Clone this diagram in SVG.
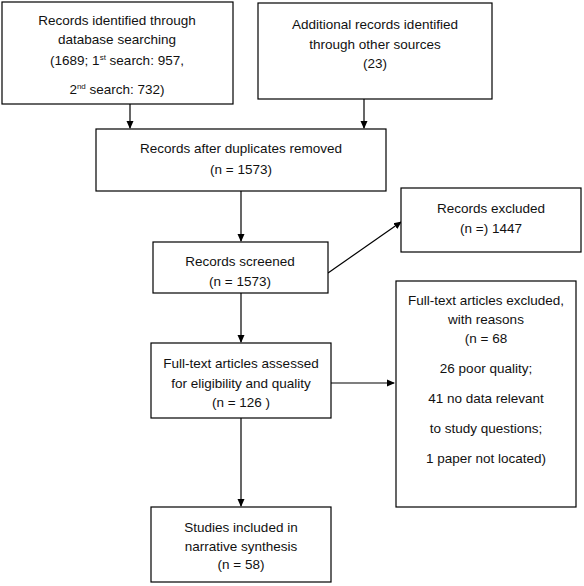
<svg xmlns="http://www.w3.org/2000/svg" width="584" height="586" viewBox="0 0 584 586">
<style>
.box{fill:#fff;stroke:#000;stroke-width:1.2}
.t{font-family:"Liberation Sans",Arial,sans-serif;font-size:13.5px;fill:#111;text-anchor:middle}
.c{stroke:#000;stroke-width:1.2;fill:none;marker-end:url(#ah)}
</style>
<defs>
<marker id="ah" markerWidth="8" markerHeight="8" refX="7" refY="4" orient="auto" markerUnits="userSpaceOnUse">
<path d="M0,0.5 L8,4 L0,7.5 Z" fill="#000"/>
</marker>
</defs>
<rect width="584" height="586" fill="#fff"/>
<g id="connectors">
<line class="c" x1="130" y1="104" x2="130" y2="128"/>
<line class="c" x1="364" y1="99" x2="364" y2="128"/>
<line class="c" x1="241" y1="191" x2="241" y2="241"/>
<line class="c" x1="328" y1="273" x2="401" y2="222"/>
<line class="c" x1="241" y1="293" x2="241" y2="342"/>
<line class="c" x1="331" y1="383" x2="394" y2="383"/>
<line class="c" x1="241" y1="418" x2="241" y2="506"/>
</g>
<g id="n1">
<rect class="box" x="2" y="2" width="231" height="102"/>
<text class="t" x="117" y="25">Records identified through</text>
<text class="t" x="117" y="44">database searching</text>
<text class="t" x="117" y="65">(1689; 1<tspan font-size="8" dy="-5">st</tspan><tspan dy="5"> search: 957,</tspan></text>
<text class="t" x="117" y="94">2<tspan font-size="8" dy="-5">nd</tspan><tspan dy="5"> search: 732)</tspan></text>
</g>
<g id="n2">
<rect class="box" x="258" y="3" width="234" height="96"/>
<text class="t" x="375" y="29">Additional records identified</text>
<text class="t" x="375" y="49">through other sources</text>
<text class="t" x="375" y="68">(23)</text>
</g>
<g id="n3">
<rect class="box" x="96" y="129" width="290" height="62"/>
<text class="t" x="241" y="153">Records after duplicates removed</text>
<text class="t" x="241" y="174">(n = 1573)</text>
</g>
<g id="n4">
<rect class="box" x="153" y="242" width="175" height="51"/>
<text class="t" x="240" y="266">Records screened</text>
<text class="t" x="240" y="286">(n = 1573)</text>
</g>
<g id="n5">
<rect class="box" x="401" y="188" width="180" height="64"/>
<text class="t" x="491" y="213">Records excluded</text>
<text class="t" x="491" y="233">(n =) 1447</text>
</g>
<g id="n6">
<rect class="box" x="151" y="343" width="180" height="75"/>
<text class="t" x="241" y="368">Full-text articles assessed</text>
<text class="t" x="241" y="388">for eligibility and quality</text>
<text class="t" x="241" y="407">(n = 126  )</text>
</g>
<g id="n7">
<rect class="box" x="396" y="281" width="180" height="226"/>
<text class="t" x="486" y="305">Full-text articles excluded,</text>
<text class="t" x="486" y="324">with reasons</text>
<text class="t" x="486" y="343">(n = 68</text>
<text class="t" x="486" y="373">26 poor quality;</text>
<text class="t" x="486" y="403">41 no data relevant</text>
<text class="t" x="486" y="433">to study questions;</text>
<text class="t" x="486" y="463">1 paper not located)</text>
</g>
<g id="n8">
<rect class="box" x="151" y="507" width="180" height="75"/>
<text class="t" x="241" y="532">Studies included in</text>
<text class="t" x="241" y="551">narrative synthesis</text>
<text class="t" x="241" y="569">(n = 58)</text>
</g>
</svg>
